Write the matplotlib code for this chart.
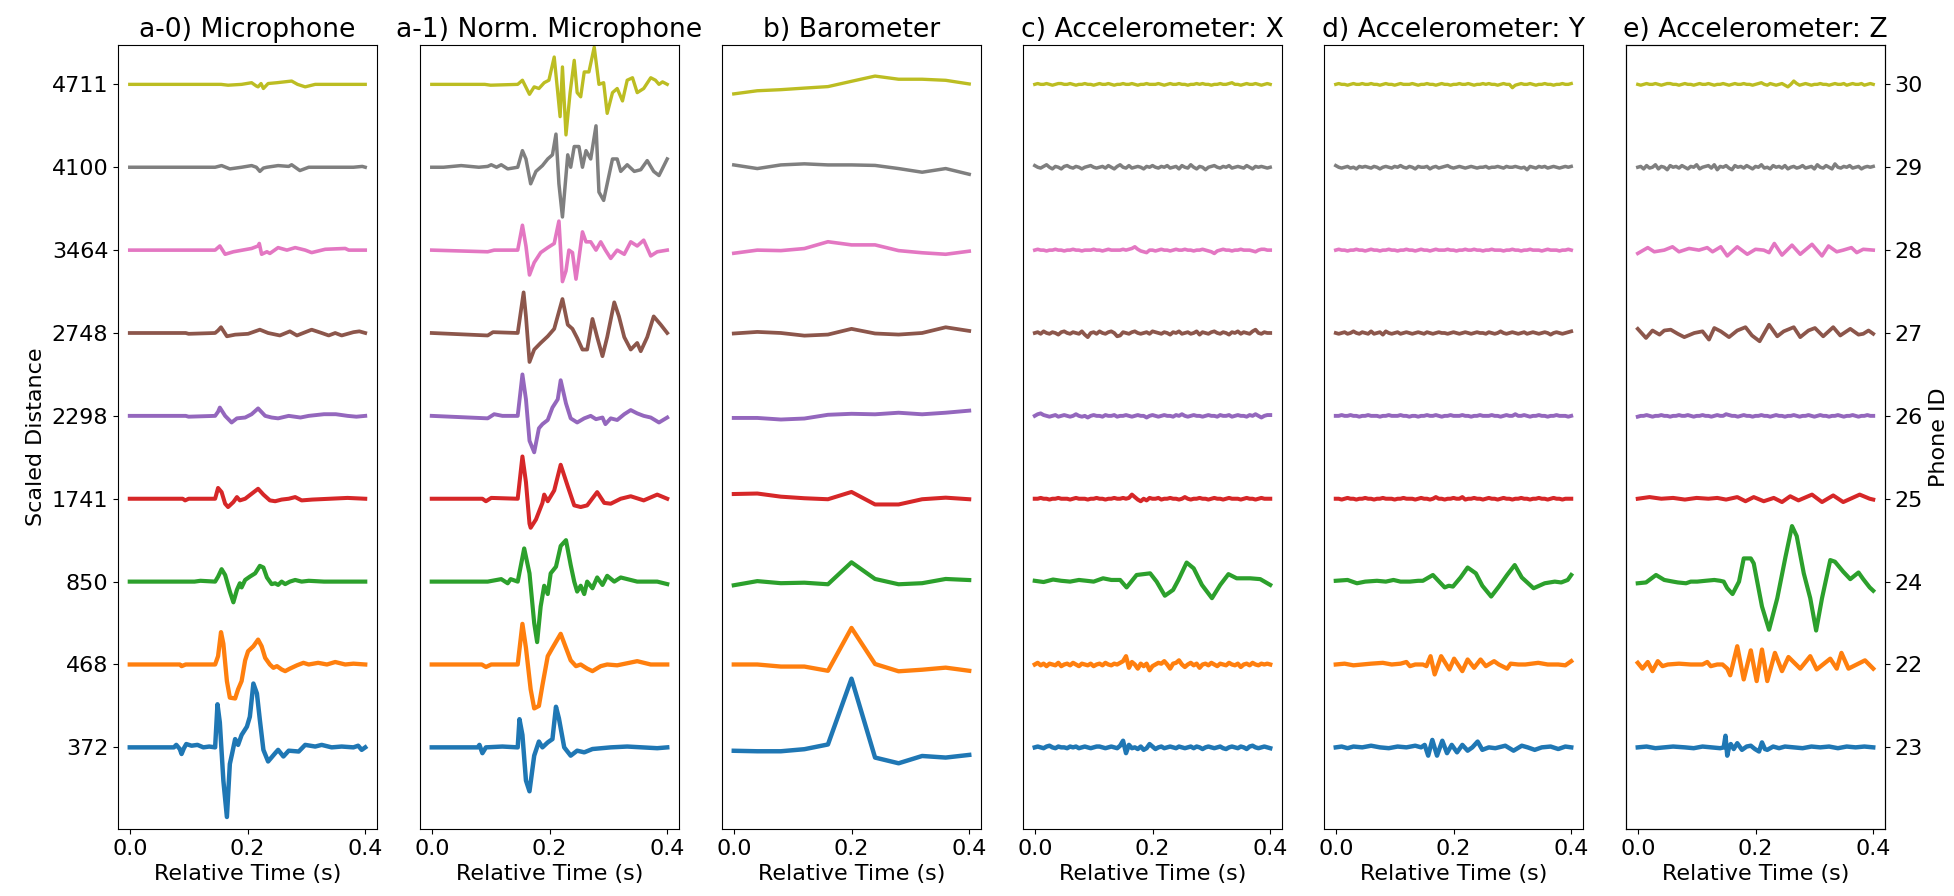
import numpy as np
import matplotlib
matplotlib.use("Agg")
import matplotlib.pyplot as plt

plt.rcParams["font.family"] = ["DejaVu Sans"]
plt.rcParams["font.size"] = 16

# ---------------- labels ----------------
distance_labels = ["372", "468", "850", "1741", "2298", "2748", "3464", "4100", "4711"]
phone_ids = ["23", "22", "24", "25", "26", "27", "28", "29", "30"]
panel_titles = ["a-0) Microphone", "a-1) Norm. Microphone", "b) Barometer",
                "c) Accelerometer: X", "d) Accelerometer: Y", "e) Accelerometer: Z"]
xticks = [0.0, 0.2, 0.4]

# ---------------- a-0) microphone (time, value) ----------------
mic_blue = [(0,0),(0.075,0),(0.079,0.03),(0.085,-0.02),(0.088,-0.08),(0.092,-0.01),(0.096,0.04),(0.105,0.02),(0.115,0.03),(0.125,0.0),(0.135,0.01),(0.145,0),(0.149,0.52),(0.153,0.3),(0.159,-0.4),(0.165,-0.84),(0.170,-0.2),(0.174,-0.07),(0.179,0.1),(0.184,0.03),(0.190,0.15),(0.199,0.25),(0.204,0.37),(0.210,0.77),(0.216,0.65),(0.221,0.33),(0.227,-0.03),(0.235,-0.17),(0.247,-0.07),(0.252,-0.03),(0.261,-0.11),(0.270,-0.04),(0.287,-0.05),(0.298,0.03),(0.315,0.01),(0.326,0.03),(0.343,0.0),(0.360,0.01),(0.380,0.0),(0.388,0.02),(0.394,-0.03),(0.4,0.0)]
mic_orange = [(0,0),(0.085,0),(0.088,-0.02),(0.095,0),(0.145,0),(0.150,0.1),(0.155,0.39),(0.159,0.25),(0.165,-0.2),(0.170,-0.4),(0.179,-0.41),(0.184,-0.3),(0.190,-0.2),(0.196,0.05),(0.201,0.16),(0.210,0.22),(0.218,0.3),(0.224,0.22),(0.230,0.08),(0.238,0.0),(0.244,-0.04),(0.250,-0.02),(0.258,-0.06),(0.264,-0.08),(0.272,-0.05),(0.284,-0.01),(0.295,0.02),(0.304,0.0),(0.320,0.02),(0.335,0.0),(0.349,0.03),(0.366,0.0),(0.380,0.01),(0.4,0.0)]
mic_green = [(0,0),(0.11,0),(0.12,0.01),(0.145,0),(0.150,0.06),(0.156,0.15),(0.162,0.08),(0.170,-0.12),(0.176,-0.25),(0.182,-0.1),(0.187,-0.02),(0.190,-0.07),(0.196,0.02),(0.204,0.06),(0.213,0.1),(0.221,0.19),(0.227,0.17),(0.233,0.05),(0.241,-0.03),(0.247,-0.02),(0.252,-0.04),(0.258,0.0),(0.264,-0.03),(0.272,0.0),(0.281,0.02),(0.292,0.0),(0.304,0.01),(0.330,0.0),(0.4,0.0)]
mic_red = [(0,0),(0.09,0),(0.094,-0.02),(0.10,0.0),(0.145,0),(0.150,0.13),(0.156,0.08),(0.162,-0.06),(0.167,-0.1),(0.176,-0.04),(0.182,0.02),(0.187,-0.02),(0.196,0.0),(0.207,0.06),(0.218,0.12),(0.227,0.05),(0.238,-0.02),(0.247,-0.03),(0.258,-0.01),(0.270,0.0),(0.281,0.02),(0.292,-0.02),(0.310,-0.01),(0.340,0.0),(0.370,0.01),(0.4,0.0)]
mic_purple = [(0,0),(0.095,0),(0.10,-0.01),(0.145,0),(0.150,0.05),(0.153,0.1),(0.162,0.0),(0.173,-0.08),(0.182,-0.03),(0.196,-0.02),(0.207,0.02),(0.218,0.09),(0.230,0.0),(0.241,-0.02),(0.252,-0.03),(0.270,0.0),(0.290,-0.02),(0.304,0.0),(0.330,0.02),(0.350,0.02),(0.370,0.0),(0.385,-0.01),(0.4,0.0)]
mic_brown = [(0,0),(0.095,0),(0.10,-0.01),(0.145,0),(0.150,0.03),(0.155,0.07),(0.165,-0.04),(0.179,-0.02),(0.201,-0.01),(0.221,0.04),(0.235,0.0),(0.255,-0.03),(0.272,0.02),(0.284,-0.03),(0.309,0.04),(0.326,0.0),(0.338,-0.03),(0.349,0.0),(0.360,-0.03),(0.380,0.01),(0.390,0.02),(0.4,0.0)]
mic_pink = [(0,0),(0.145,0),(0.153,0.05),(0.162,-0.05),(0.176,-0.02),(0.207,0.02),(0.218,0.05),(0.220,0.08),(0.224,-0.05),(0.233,-0.02),(0.238,-0.04),(0.252,0.03),(0.267,0.0),(0.281,0.03),(0.298,0.0),(0.309,-0.03),(0.332,0.01),(0.366,0.02),(0.372,0.0),(0.4,0.0)]
mic_gray = [(0,0),(0.145,0),(0.156,0.02),(0.170,-0.02),(0.190,0.0),(0.207,0.02),(0.215,0.0),(0.221,-0.05),(0.227,-0.01),(0.233,0.0),(0.252,0.02),(0.270,0.01),(0.275,0.03),(0.289,-0.04),(0.304,0.0),(0.340,0.0),(0.380,0.0),(0.395,0.01),(0.4,0.0)]
mic_yellow = [(0,0),(0.155,0),(0.167,-0.01),(0.190,0.0),(0.207,0.02),(0.215,-0.02),(0.218,-0.03),(0.223,0.01),(0.227,-0.05),(0.235,0.01),(0.250,0.02),(0.275,0.04),(0.285,0.0),(0.298,-0.03),(0.315,0.0),(0.350,0.0),(0.4,0.0)]

# ---------------- a-1) normalised microphone ----------------
norm_blue = [(0,0),(0.078,0),(0.081,0.03),(0.086,-0.07),(0.092,0.0),(0.12,0.01),(0.146,0),(0.149,0.34),(0.154,0.15),(0.160,-0.4),(0.166,-0.53),(0.174,-0.1),(0.182,0.07),(0.188,0.0),(0.197,0.06),(0.205,0.1),(0.211,0.49),(0.216,0.35),(0.225,0.0),(0.236,-0.1),(0.247,-0.04),(0.259,-0.06),(0.273,-0.02),(0.304,0.0),(0.332,0.01),(0.383,-0.01),(0.4,0.0)]
norm_orange = [(0,0),(0.085,0),(0.092,-0.03),(0.101,0.0),(0.146,0),(0.154,0.49),(0.160,0.2),(0.168,-0.3),(0.174,-0.53),(0.182,-0.5),(0.188,-0.25),(0.197,0.1),(0.205,0.2),(0.219,0.37),(0.228,0.2),(0.236,0.05),(0.245,-0.02),(0.253,0.0),(0.264,-0.05),(0.273,-0.08),(0.287,-0.02),(0.298,0.0),(0.315,-0.01),(0.349,0.04),(0.372,0.0),(0.4,0.0)]
norm_green = [(0,0),(0.095,0),(0.118,0.03),(0.129,-0.02),(0.134,0.03),(0.146,0),(0.157,0.4),(0.166,0.1),(0.174,-0.5),(0.179,-0.73),(0.185,-0.3),(0.191,-0.05),(0.197,-0.15),(0.202,0.1),(0.211,0.18),(0.219,0.43),(0.228,0.5),(0.236,0.2),(0.242,0.0),(0.247,-0.12),(0.253,-0.05),(0.259,-0.15),(0.264,0.0),(0.273,-0.08),(0.281,0.05),(0.290,-0.04),(0.298,0.07),(0.310,0.0),(0.321,0.05),(0.349,0.0),(0.383,0.0),(0.4,-0.03)]
norm_red = [(0,0),(0.086,0),(0.092,-0.03),(0.101,0.01),(0.146,0),(0.154,0.51),(0.160,0.2),(0.166,-0.3),(0.168,-0.35),(0.177,-0.25),(0.188,-0.05),(0.191,0.05),(0.197,-0.03),(0.208,0.1),(0.219,0.41),(0.231,0.15),(0.242,-0.08),(0.253,-0.1),(0.264,-0.08),(0.281,0.08),(0.293,-0.05),(0.304,-0.06),(0.321,0.0),(0.338,0.03),(0.360,-0.02),(0.383,0.05),(0.4,0.0)]
norm_purple = [(0,0),(0.095,-0.03),(0.106,0.02),(0.12,0.0),(0.146,0),(0.154,0.5),(0.160,0.2),(0.166,-0.3),(0.174,-0.44),(0.182,-0.15),(0.188,-0.1),(0.197,-0.05),(0.205,0.1),(0.214,0.2),(0.219,0.43),(0.228,0.15),(0.236,-0.03),(0.247,-0.08),(0.259,-0.03),(0.270,0.0),(0.279,-0.04),(0.290,-0.02),(0.295,-0.1),(0.304,-0.03),(0.315,-0.05),(0.327,0.02),(0.338,0.07),(0.349,0.03),(0.360,0.0),(0.372,-0.02),(0.386,-0.08),(0.4,-0.02)]
norm_brown = [(0,0),(0.095,-0.03),(0.104,0.01),(0.146,0),(0.156,0.49),(0.160,0.2),(0.166,-0.35),(0.174,-0.2),(0.185,-0.12),(0.197,-0.04),(0.208,0.05),(0.222,0.41),(0.231,0.1),(0.239,0.05),(0.247,-0.06),(0.256,-0.2),(0.264,-0.2),(0.273,0.17),(0.281,-0.05),(0.290,-0.28),(0.298,-0.05),(0.310,0.37),(0.318,0.2),(0.327,-0.05),(0.338,-0.2),(0.349,-0.12),(0.355,-0.22),(0.366,-0.05),(0.377,0.2),(0.389,0.1),(0.4,0.0)]
norm_pink = [(0,0),(0.095,-0.02),(0.106,0.0),(0.146,0),(0.154,0.3),(0.160,0.05),(0.166,-0.3),(0.174,-0.15),(0.185,-0.03),(0.197,0.03),(0.208,0.08),(0.216,0.35),(0.222,-0.38),(0.228,-0.25),(0.233,0.0),(0.239,-0.03),(0.245,-0.35),(0.250,-0.1),(0.256,0.22),(0.262,0.1),(0.270,0.1),(0.279,0.0),(0.287,0.1),(0.295,0.0),(0.304,-0.1),(0.315,0.0),(0.327,-0.05),(0.338,0.1),(0.349,0.05),(0.360,0.12),(0.372,-0.07),(0.383,-0.02),(0.4,0.0)]
norm_gray = [(0,0),(0.02,0.0),(0.05,0.02),(0.08,0.0),(0.095,0.01),(0.101,0.03),(0.110,0.0),(0.118,0.03),(0.129,-0.02),(0.146,0),(0.154,0.2),(0.160,0.1),(0.168,-0.2),(0.177,-0.05),(0.188,0.02),(0.197,0.1),(0.205,0.15),(0.211,0.4),(0.216,-0.2),(0.222,-0.6),(0.228,-0.1),(0.231,0.15),(0.236,0.0),(0.242,0.25),(0.250,0.25),(0.256,0.0),(0.262,0.2),(0.270,0.1),(0.279,0.5),(0.284,-0.3),(0.292,-0.4),(0.298,-0.2),(0.307,0.1),(0.315,0.1),(0.321,-0.05),(0.332,0.03),(0.344,-0.05),(0.355,-0.03),(0.366,0.08),(0.377,-0.05),(0.386,-0.1),(0.4,0.1)]
norm_yellow = [(0,0),(0.09,0.0),(0.10,-0.01),(0.146,0),(0.154,0.05),(0.166,-0.12),(0.174,-0.03),(0.182,-0.05),(0.191,0.02),(0.199,0.05),(0.208,0.33),(0.214,-0.1),(0.218,-0.39),(0.222,0.21),(0.228,-0.61),(0.235,-0.1),(0.242,0.29),(0.247,-0.1),(0.253,-0.15),(0.259,0.15),(0.267,0.15),(0.276,0.45),(0.284,0.0),(0.292,0.02),(0.298,-0.35),(0.307,-0.1),(0.315,-0.05),(0.324,-0.2),(0.332,0.05),(0.341,0.08),(0.349,-0.1),(0.360,-0.05),(0.372,0.08),(0.380,0.05),(0.386,0.0),(0.392,0.03),(0.4,0.0)]

# ---------------- b) barometer (11 samples, 0..0.4 s) ----------------
baro_blue = [-0.041, -0.047, -0.047, -0.022, 0.035, 0.829, -0.123, -0.192, -0.104, -0.123, -0.091]
baro_orange = [0.0, 0.0, -0.025, -0.025, -0.076, 0.441, 0.006, -0.082, -0.063, -0.038, -0.076]
baro_green = [-0.044, 0.006, -0.019, -0.013, -0.032, 0.233, 0.032, -0.032, -0.019, 0.032, 0.019]
baro_red = [0.057, 0.063, 0.025, 0.006, -0.006, 0.082, -0.069, -0.069, -0.006, 0.013, -0.006]
baro_purple = [-0.025, -0.025, -0.044, -0.032, 0.013, 0.025, 0.019, 0.038, 0.019, 0.038, 0.063]
baro_brown = [-0.006, 0.013, 0.0, -0.032, -0.019, 0.050, -0.006, -0.019, 0.0, 0.069, 0.025]
baro_pink = [-0.038, 0.0, -0.006, 0.019, 0.101, 0.063, 0.063, -0.006, -0.032, -0.050, -0.013]
baro_gray = [0.028, -0.016, 0.028, 0.041, 0.028, 0.028, 0.022, -0.016, -0.060, -0.016, -0.085]
baro_yellow = [-0.115, -0.077, -0.064, -0.045, -0.027, 0.037, 0.100, 0.062, 0.062, 0.049, 0.005]

# ---------------- c) accelerometer X (hundredths, evenly sampled) ----------------
accx_blue = [0,1,0,-1,1,2,0,-1,1,0,0,-1,1,0,1,-1,0,1,0,-1,0,1,1,0,-1,0,1,0,-1,2,8,-7,3,-1,0,-2,1,-3,-1,4,1,-2,0,1,-1,0,1,0,-1,1,0,-1,0,1,-1,1,0,-2,0,1,0,-1,0,1,-1,-2,0,1,0,-1,1,0,-2,1,2,0,-1,0,1,0,-1]
accx_orange = [0,2,-1,1,-2,1,0,-1,2,-2,0,1,-1,2,0,-2,1,0,-1,1,-2,0,1,-1,2,0,-1,1,0,2,4,10,-4,3,0,-5,1,-2,1,-7,-2,0,2,1,4,0,-5,1,2,5,0,-3,0,2,-1,1,-4,0,1,-1,2,0,-2,1,0,-1,2,0,-1,1,-3,0,1,-1,2,0,-1,1,0,1,0]
accx_green = [(0,0.01),(0.015,-0.005),(0.031,0.025),(0.045,0.01),(0.06,0.0),(0.075,0.02),(0.088,0.01),(0.10,0.0),(0.116,0.04),(0.13,0.02),(0.145,0.02),(0.156,-0.07),(0.173,0.08),(0.196,0.1),(0.207,0.0),(0.221,-0.17),(0.235,-0.1),(0.244,0.02),(0.258,0.23),(0.270,0.16),(0.284,-0.04),(0.301,-0.2),(0.315,-0.04),(0.329,0.09),(0.343,0.04),(0.366,0.04),(0.383,0.03),(0.4,-0.04)]
accx_red = [0,0,1,0,0,-1,0,0,1,0,0,0,-1,0,1,0,0,0,-1,0,0,1,0,0,-1,0,0,1,0,0,1,0,1,5,2,-1,-3,0,-2,1,0,0,1,-1,0,0,1,0,0,-1,0,2,0,-1,0,0,1,0,0,-1,0,1,0,0,-1,0,1,0,0,0,-1,0,1,0,0,-1,0,1,0,0,0]
accx_purple = [0,2,3,1,0,-1,0,1,-1,0,1,0,-1,0,2,0,-1,0,-2,0,1,0,0,-1,1,0,0,1,-1,0,0,1,0,-1,0,1,0,0,-2,0,1,0,-1,0,1,0,0,-1,1,0,2,0,-1,0,1,0,0,-1,0,1,0,0,-1,1,0,0,1,-1,0,1,0,0,-1,1,0,2,0,-2,0,1,1]
accx_brown = [0,1,-1,2,0,-1,1,0,-2,1,2,0,-1,1,0,-1,2,-2,-5,0,1,-1,2,0,-1,1,2,0,-4,-3,1,0,-1,1,2,0,-1,0,1,-1,2,1,0,-1,1,0,-2,1,0,2,-1,0,1,-1,0,2,-2,1,0,-1,1,2,0,-1,1,0,-2,1,0,2,-1,1,0,-1,2,4,0,-1,1,0,0]
accx_pink = [0,1,0,0,-1,0,0,1,0,0,-1,0,0,1,0,0,-1,0,0,0,1,0,0,-1,0,1,0,0,0,0,1,0,1,2,4,1,-1,-2,-3,0,0,-1,0,1,0,0,-1,0,1,0,0,1,0,0,-1,0,0,1,0,-1,-2,-4,-1,0,1,0,0,-1,0,0,1,0,0,0,-1,-2,0,1,1,0,0]
accx_gray = [2,0,-1,1,3,0,-2,1,0,-2,1,2,0,-1,1,0,-2,0,1,2,0,-1,0,1,-1,2,0,-2,1,3,0,-1,2,-1,0,1,0,-2,1,0,2,0,-1,1,0,2,-1,0,1,-2,2,0,-1,3,0,-2,1,0,-3,0,1,2,0,-1,1,0,2,-1,0,1,0,-1,2,0,-2,1,0,1,0,-1,0]
accx_yellow = [0,1,0,0,1,0,-1,0,1,1,0,0,1,0,-1,0,0,1,0,0,-1,0,1,0,0,1,0,-1,0,0,1,0,0,1,0,-1,0,0,1,0,0,0,1,0,-1,0,1,0,0,1,0,0,-1,0,0,1,0,1,0,0,-1,0,0,1,0,0,1,2,0,0,-1,0,1,0,0,1,0,-1,0,1,0]

# ---------------- d) accelerometer Y ----------------
accy_blue = [(0,0),(0.01,0.01),(0.02,-0.01),(0.03,0.01),(0.045,0.0),(0.06,0.02),(0.075,0.0),(0.09,-0.01),(0.105,0.01),(0.12,0.0),(0.135,0.02),(0.145,0.0),(0.151,0.03),(0.157,-0.1),(0.164,0.09),(0.172,-0.1),(0.181,0.08),(0.189,-0.07),(0.197,0.03),(0.206,-0.06),(0.215,0.03),(0.224,-0.04),(0.232,0.0),(0.241,0.07),(0.249,-0.03),(0.260,0.0),(0.271,-0.01),(0.288,0.02),(0.302,-0.04),(0.316,0.02),(0.326,0.0),(0.338,-0.03),(0.350,0.0),(0.365,0.01),(0.378,-0.02),(0.39,0.01),(0.4,0.0)]
accy_orange = [(0,0),(0.015,0.01),(0.03,-0.01),(0.045,0.0),(0.06,0.01),(0.08,0.02),(0.095,0.0),(0.11,0.01),(0.120,0.03),(0.126,-0.02),(0.135,0.0),(0.148,0.0),(0.154,-0.02),(0.161,0.1),(0.168,-0.12),(0.179,0.1),(0.193,-0.06),(0.201,0.07),(0.215,-0.08),(0.224,0.06),(0.235,-0.04),(0.246,0.06),(0.255,-0.02),(0.269,0.04),(0.277,0.0),(0.291,-0.05),(0.297,0.01),(0.31,0.0),(0.322,0.0),(0.344,0.02),(0.36,0.0),(0.378,0.0),(0.39,-0.01),(0.4,0.04)]
accy_green = [(0,0.01),(0.02,0.02),(0.036,-0.02),(0.05,0.0),(0.07,0.01),(0.085,0.0),(0.098,0.02),(0.11,0.0),(0.126,0.0),(0.14,0.01),(0.148,0.01),(0.165,0.08),(0.185,-0.07),(0.192,-0.05),(0.199,-0.06),(0.212,0.05),(0.224,0.17),(0.238,0.1),(0.249,-0.05),(0.264,-0.18),(0.277,-0.06),(0.291,0.08),(0.304,0.2),(0.316,0.05),(0.336,-0.08),(0.355,-0.02),(0.372,0.0),(0.383,-0.01),(0.394,0.02),(0.4,0.08)]
accy_red = [0,0,-1,0,1,0,0,-1,0,0,1,0,0,-1,0,0,1,0,0,0,-1,0,0,1,0,0,0,-1,0,1,0,0,-1,0,2,0,0,-1,0,0,1,0,0,2,-1,0,0,1,0,0,-1,0,1,0,0,-1,0,1,0,0,-1,0,0,1,0,0,-1,0,0,1,0,0,-1,0,1,0,0,-1,0,0,0]
accy_purple = [0,0,1,0,0,1,0,0,-1,0,0,1,0,0,0,-1,0,0,1,0,0,0,1,0,0,-1,0,0,-1,0,0,1,0,0,1,0,-1,0,0,1,0,0,0,1,0,0,-1,0,0,1,0,0,0,1,0,0,-1,0,1,0,0,2,0,0,1,0,-1,0,0,1,0,0,-1,0,0,1,0,0,0,-1,0]
accy_brown = [0,-1,0,1,-1,0,2,0,-1,1,0,-1,2,-1,0,1,-2,2,0,-1,0,1,-1,0,1,0,-1,0,1,0,-1,1,0,-1,0,1,0,0,-1,0,1,0,-1,0,1,0,-1,0,1,0,0,-1,1,0,-1,0,2,0,-1,0,1,0,-1,0,1,-1,0,1,0,-1,0,1,0,-2,0,1,0,-1,0,1,2]
accy_pink = [0,1,0,0,-1,0,0,1,0,0,-1,0,1,0,0,-1,0,0,1,0,0,-1,0,0,1,0,0,-1,0,1,0,0,-1,0,1,0,0,0,1,0,0,-1,0,0,1,0,0,1,0,0,-1,0,0,1,0,0,0,-1,0,0,1,0,0,-1,0,0,1,0,0,0,-1,0,1,0,0,0,-1,0,0,1,0]
accy_gray = [2,0,-1,0,1,-1,0,-2,1,0,1,0,-1,1,0,-2,0,1,0,-1,1,0,2,0,-1,1,0,-2,1,0,0,1,-2,0,1,-1,0,1,2,0,-1,0,1,0,-1,0,1,0,-1,0,0,1,-1,0,0,1,0,-1,1,0,0,1,0,-1,0,-3,1,0,-1,1,0,1,-1,0,1,0,-1,0,1,0,1]
accy_yellow = [0,1,0,0,-1,0,1,0,0,1,0,0,1,0,0,-1,0,1,0,0,-1,0,1,0,0,0,1,0,-1,0,0,1,0,0,-1,0,1,0,0,-1,0,0,1,0,0,1,0,-1,0,0,1,0,1,0,0,-1,0,1,0,0,-4,-1,0,1,0,0,1,0,-1,0,0,1,0,0,-1,0,0,1,0,0,1]

# ---------------- e) accelerometer Z ----------------
accz_blue = [(0,0),(0.015,0.01),(0.03,-0.01),(0.045,0.0),(0.06,0.01),(0.08,0.0),(0.095,-0.01),(0.11,0.01),(0.125,0.0),(0.14,-0.01),(0.146,0.0),(0.149,0.14),(0.152,-0.1),(0.155,0.0),(0.158,0.04),(0.163,-0.02),(0.169,0.05),(0.177,-0.03),(0.185,0.01),(0.192,0.02),(0.199,-0.02),(0.206,-0.05),(0.211,0.06),(0.216,-0.02),(0.220,-0.03),(0.23,0.01),(0.24,-0.01),(0.25,0.01),(0.265,0.0),(0.28,-0.01),(0.295,0.01),(0.31,0.0),(0.325,0.01),(0.34,-0.01),(0.355,0.01),(0.37,0.0),(0.385,0.01),(0.4,0.0)]
accz_orange = [(0,0.02),(0.008,-0.05),(0.017,0.03),(0.025,-0.08),(0.034,0.04),(0.042,-0.02),(0.051,0.0),(0.07,0.01),(0.09,0.0),(0.11,0.0),(0.118,0.03),(0.124,-0.02),(0.135,0.0),(0.144,0.0),(0.152,-0.05),(0.157,-0.13),(0.169,0.22),(0.180,-0.18),(0.192,0.17),(0.202,-0.2),(0.211,0.18),(0.220,-0.2),(0.233,0.14),(0.245,-0.08),(0.256,0.09),(0.276,-0.05),(0.293,0.1),(0.304,-0.06),(0.327,0.07),(0.338,-0.05),(0.346,0.14),(0.358,-0.05),(0.372,0.0),(0.386,0.05),(0.4,-0.05)]
accz_green = [(0,-0.02),(0.014,-0.01),(0.031,0.08),(0.045,0.02),(0.06,0.0),(0.068,-0.01),(0.082,-0.02),(0.09,0.0),(0.101,0.0),(0.115,0.01),(0.130,0.02),(0.14,0.01),(0.146,0.0),(0.152,-0.08),(0.161,-0.15),(0.172,0.0),(0.180,0.28),(0.192,0.28),(0.197,0.22),(0.211,-0.3),(0.223,-0.58),(0.237,-0.2),(0.251,0.3),(0.262,0.67),(0.270,0.55),(0.282,0.1),(0.293,-0.2),(0.303,-0.59),(0.313,-0.2),(0.327,0.26),(0.335,0.24),(0.349,0.12),(0.361,0.03),(0.375,0.11),(0.383,0.03),(0.394,-0.07),(0.4,-0.11)]
accz_red = [(0,0),(0.02,0.02),(0.04,0.0),(0.06,0.01),(0.08,-0.01),(0.10,0.01),(0.12,0.0),(0.135,0.01),(0.15,-0.01),(0.169,0.02),(0.183,-0.03),(0.197,0.02),(0.214,-0.03),(0.231,0.01),(0.245,-0.04),(0.259,0.03),(0.273,-0.02),(0.296,0.05),(0.313,-0.04),(0.332,0.04),(0.349,-0.04),(0.377,0.05),(0.394,0.0),(0.4,-0.01)]
accz_purple = [-1,0,0,1,0,-1,0,0,1,0,0,-1,0,0,1,0,0,1,0,-1,0,0,1,0,0,-1,0,1,0,0,2,1,0,0,-1,0,1,0,0,-1,0,0,1,0,0,-1,0,1,0,0,-1,0,0,1,0,-1,0,0,1,0,-1,0,1,0,0,-1,0,0,1,0,-1,0,0,1,0,-1,0,0,1,0,0]
accz_brown = [(0,0.05),(0.014,-0.06),(0.025,0.03),(0.037,-0.02),(0.045,0.03),(0.056,0.04),(0.068,-0.01),(0.079,-0.05),(0.096,0.0),(0.110,0.02),(0.121,-0.08),(0.130,0.06),(0.141,0.02),(0.155,-0.05),(0.169,0.03),(0.183,0.07),(0.194,-0.03),(0.207,-0.1),(0.223,0.1),(0.237,-0.04),(0.248,0.02),(0.265,0.07),(0.276,-0.05),(0.290,0.03),(0.301,0.06),(0.315,-0.04),(0.332,0.07),(0.344,-0.03),(0.361,0.05),(0.375,-0.02),(0.383,-0.01),(0.392,0.03),(0.4,-0.01)]
accz_pink = [(0,-0.04),(0.017,0.03),(0.028,-0.02),(0.045,0.0),(0.059,0.04),(0.070,-0.02),(0.087,0.02),(0.104,0.0),(0.118,0.03),(0.127,-0.02),(0.141,0.04),(0.152,-0.07),(0.169,0.04),(0.186,-0.05),(0.200,0.01),(0.214,0.0),(0.223,-0.03),(0.232,0.08),(0.245,-0.06),(0.262,0.06),(0.276,-0.05),(0.296,0.07),(0.313,-0.07),(0.324,0.05),(0.338,-0.02),(0.349,0.0),(0.363,0.03),(0.372,-0.03),(0.383,0.01),(0.4,0.0)]
accz_gray = [0,1,-2,2,-1,0,3,-2,1,0,-3,2,0,1,-1,2,0,-2,1,0,3,-2,0,1,2,-1,3,-3,1,0,2,-1,-3,2,0,1,-1,2,0,-2,1,0,3,-1,0,-2,2,0,1,-1,2,-2,0,1,-1,0,2,-1,0,1,-2,3,0,-1,2,0,-2,4,0,-1,1,0,2,-1,0,1,-2,0,1,0,1]
accz_yellow = [0,-1,0,1,0,0,1,0,-1,0,1,1,0,0,-1,0,1,0,0,-1,0,1,0,0,1,0,-1,0,0,1,0,-1,0,1,0,0,1,0,0,-1,0,1,2,0,-1,1,0,-1,0,1,-1,-3,0,4,1,-1,0,1,0,-1,0,0,1,0,0,-1,0,1,0,0,1,-1,0,1,0,0,1,-1,0,1,0]

panels = [
    [mic_blue, mic_orange, mic_green, mic_red, mic_purple, mic_brown, mic_pink, mic_gray, mic_yellow],
    [norm_blue, norm_orange, norm_green, norm_red, norm_purple, norm_brown, norm_pink, norm_gray, norm_yellow],
    [baro_blue, baro_orange, baro_green, baro_red, baro_purple, baro_brown, baro_pink, baro_gray, baro_yellow],
    [accx_blue, accx_orange, accx_green, accx_red, accx_purple, accx_brown, accx_pink, accx_gray, accx_yellow],
    [accy_blue, accy_orange, accy_green, accy_red, accy_purple, accy_brown, accy_pink, accy_gray, accy_yellow],
    [accz_blue, accz_orange, accz_green, accz_red, accz_purple, accz_brown, accz_pink, accz_gray, accz_yellow],
]


def to_xy(spec):
    """(t, v) keypoint lists, evenly sampled int lists (hundredths) or float lists."""
    if isinstance(spec[0], tuple):
        arr = np.array(spec, dtype=float)
        return arr[:, 0], arr[:, 1]
    vals = np.asarray(spec, dtype=float)
    if all(isinstance(s, int) for s in spec):
        vals = vals / 100.0
    return np.linspace(0.0, 0.4, len(vals)), vals


colors = plt.rcParams["axes.prop_cycle"].by_key()["color"][:9]
widths = [3.2 - 0.1 * i for i in range(9)]

W, H = 1954, 896
fig = plt.figure(figsize=(W / 100, H / 100), dpi=100)
lefts = [118, 420, 722, 1023, 1324, 1626]
ax_w, ax_b, ax_h = 259, 67, 784

axes = []
for k, spec_list in enumerate(panels):
    ax = fig.add_axes([lefts[k] / W, ax_b / H, ax_w / W, ax_h / H])
    for i, spec in enumerate(spec_list):
        t, v = to_xy(spec)
        ax.plot(t, i + v, color=colors[i], lw=widths[i])
    ax.set_xlim(-0.02, 0.42)
    ax.set_ylim(-0.985, 8.475)
    ax.set_xticks(xticks)
    ax.set_xticklabels([f"{x:.1f}" for x in xticks])
    ax.set_title(panel_titles[k])
    ax.set_xlabel("Relative Time (s)")
    if k == 0:
        ax.set_yticks(range(9))
        ax.set_yticklabels(distance_labels)
        ax.set_ylabel("Scaled Distance")
    else:
        ax.set_yticks([])
    axes.append(ax)

tw = axes[-1].twinx()
tw.set_ylim(axes[-1].get_ylim())
tw.set_yticks(range(9))
tw.set_yticklabels(phone_ids)
tw.set_ylabel("Phone ID")

fig.savefig("out.png", dpi=100)
